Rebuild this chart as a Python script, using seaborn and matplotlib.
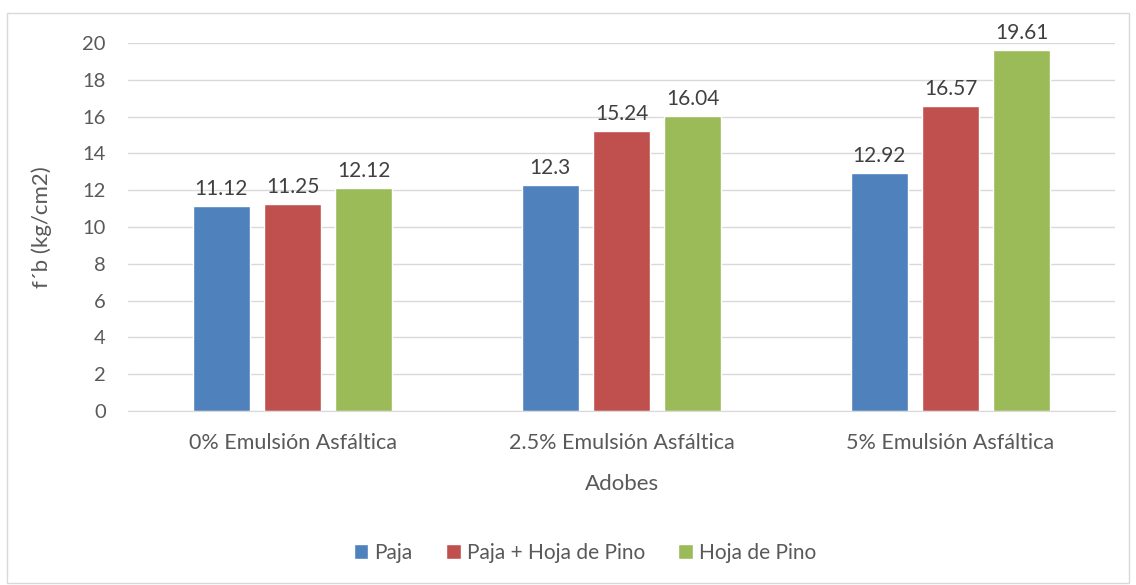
import pandas as pd
import numpy as np
import matplotlib
matplotlib.use('Agg')
import matplotlib.pyplot as plt
import seaborn as sns
from matplotlib.patches import Rectangle

categorias = ['0% Emulsión Asfáltica', '2.5% Emulsión Asfáltica', '5% Emulsión Asfáltica']
series = ['Paja', 'Paja + Hoja de Pino', 'Hoja de Pino']
paja = [11.12, 12.3, 12.92]
paja_pino = [11.25, 15.24, 16.57]
hoja_pino = [12.12, 16.04, 19.61]
etiquetas = [['11.12', '12.3', '12.92'], ['11.25', '15.24', '16.57'], ['12.12', '16.04', '19.61']]
colores = ['#4F81BD', '#C0504D', '#9BBB59']

df = pd.DataFrame({
    'Adobes': categorias * 3,
    'serie': [s for s in series for _ in categorias],
    'valor': paja + paja_pino + hoja_pino,
})

sns.set_style('white')
plt.rcParams['font.family'] = ['Lato', 'DejaVu Sans']
gris = '#595959'

fig = plt.figure(figsize=(11.36, 5.85), dpi=100)
ax = fig.add_axes([0.1127, 0.2974, 0.8688, 0.6291])

sns.barplot(data=df, x='Adobes', y='valor', hue='serie', hue_order=series,
            palette=colores, width=0.65, gap=0.2, saturation=1, ax=ax, legend=True)

ax.set_ylim(0, 20)
ax.set_yticks(np.arange(0, 21, 2))
ax.yaxis.grid(True, color='#d9d9d9', linewidth=1)
ax.set_axisbelow(True)
for s in ['top', 'right', 'left']:
    ax.spines[s].set_visible(False)
ax.spines['bottom'].set_color('#d9d9d9')
ax.tick_params(axis='y', length=0, labelsize=14.5, colors=gris, pad=16)
ax.tick_params(axis='x', length=0, labelsize=15.5, colors=gris, pad=16)
ax.set_ylabel('f´b (kg/cm2)', fontsize=16, color=gris, labelpad=22)
ax.set_xlabel('Adobes', fontsize=16, color=gris, labelpad=15)

for cont, labs in zip(ax.containers, etiquetas):
    ax.bar_label(cont, labels=labs, padding=5, fontsize=15, color='#404040', clip_on=False)

h, l = ax.get_legend_handles_labels()
ax.legend(h, l, loc='center', bbox_to_anchor=(0.463, -0.385), ncol=3, frameon=False,
          fontsize=15, labelcolor=gris, handlelength=0.7, handleheight=0.7,
          handletextpad=0.3, columnspacing=1.6)

fig.patches.append(Rectangle((0.006, 0.003), 0.988, 0.974, transform=fig.transFigure,
                             fill=False, edgecolor='#d9d9d9', linewidth=1))

fig.savefig('out.png', dpi=100)
